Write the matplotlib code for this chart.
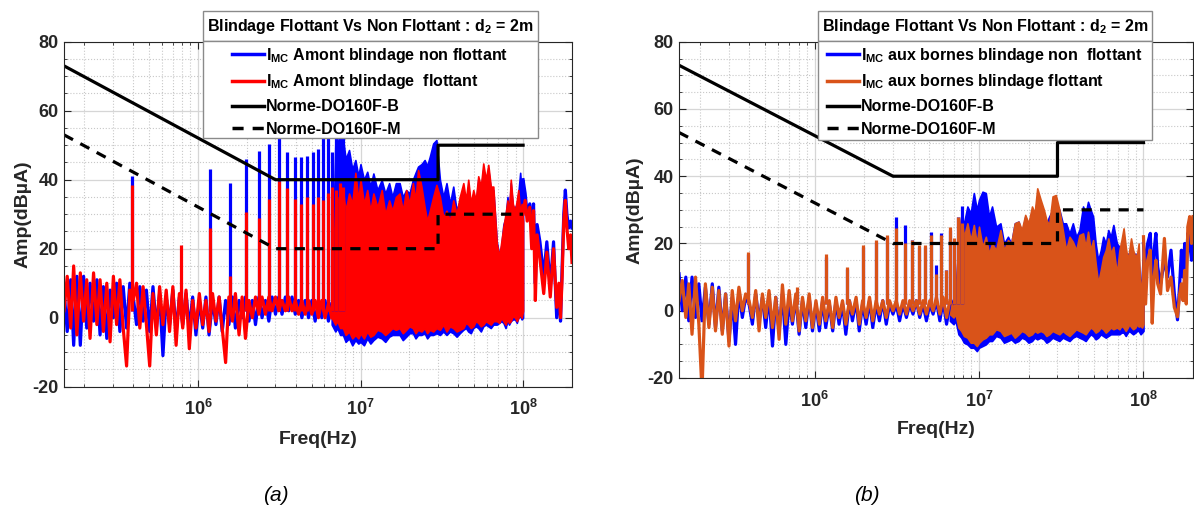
import numpy as np
import matplotlib
matplotlib.use('Agg')
import matplotlib.pyplot as plt
from matplotlib.lines import Line2D
from matplotlib.patches import Rectangle
from matplotlib.ticker import MultipleLocator, LogLocator, FuncFormatter, NullFormatter

plt.rcParams['font.family'] = ['Liberation Sans', 'DejaVu Sans']
plt.rcParams['font.weight'] = 'bold'
plt.rcParams['axes.unicode_minus'] = False
plt.rcParams['mathtext.fontset'] = 'custom'
plt.rcParams['mathtext.rm'] = 'Liberation Sans:bold'
plt.rcParams['mathtext.bf'] = 'Liberation Sans:bold'
plt.rcParams['mathtext.it'] = 'Liberation Sans:italic:bold'

# ---- data (frequencies in MHz, amplitudes in dBuA) ----
f_noise = [0.150, 0.157, 0.165, 0.172, 0.180, 0.189, 0.198, 0.207, 0.217, 0.228,
           0.239, 0.250, 0.262, 0.275, 0.288, 0.302, 0.316, 0.331, 0.347, 0.364,
           0.381, 0.400, 0.419, 0.439, 0.460, 0.482, 0.505, 0.529, 0.555, 0.581,
           0.609, 0.638, 0.669, 0.701, 0.734, 0.769, 0.806, 0.845, 0.885, 0.928,
           0.972, 1.02, 1.07, 1.12, 1.17, 1.23, 1.29, 1.35, 1.41, 1.48,
           1.55, 1.63, 1.70, 1.79, 1.87, 1.96, 2.06, 2.16, 2.26, 2.37,
           2.48, 2.60, 2.73, 2.86, 3.00, 3.14, 3.29, 3.45, 3.62, 3.79,
           3.97, 4.16, 4.36, 4.57, 4.79, 5.02, 5.26, 5.51, 5.78, 6.05,
           6.35, 6.65]

# (a) non floating shield (blue) / floating shield (red)
a_blue_noise = [8, -4, 11, -8, 12, -8, 12, -3, 10, -1,
                11, -5, 9, -6, 8, 0, 10, -4, 9, -3,
                10, 6, -2, 9, -1, 8, -4, 9, -3, 7,
                -11, 6, -2, 8, -4, 6, -2, 7, -3, 6,
                -5, 5, -3, 6, -5, 5, -2, 6, -4, 5,
                -2, 6, -3, 5, 0, 6, -1, 5, -2, 6,
                0, 5, -1, 6, 1, 6, 1, 6, 2, 6,
                1, 5, 0, 5, 0, 5, -1, 5, 0, 5,
                -1, 4]
a_red_noise = [2, 12, -3, 15, -5, 13, -1, 11, -6, 13,
               -2, 11, -4, 10, -7, 12, -2, 11, -3, -14,
               8, 5, 10, -3, 9, -2, -14, 7, -5, 9,
               -2, 8, -4, 9, -8, 7, -3, 8, -9, 5,
               -3, 7, -2, 5, -4, 7, -1, 6, -3, -13,
               6, -1, 7, -5, 6, -6, 5, 0, 6, 1,
               6, 1, 6, 2, 6, 2, 5, 2, 6, 2,
               5, 1, 5, 1, 5, 1, 5, 0, 5, 0,
               4, 0]

# (b) non floating shield (blue) / floating shield (orange)
b_blue_noise = [11, 0, 10, -3, 10, -2, 8, -3, 7, -4,
                8, -5, 7, -6, 5, -9, 4, -10, 6, -2,
                4, 2, -4, 5, -3, 4, -5, 5, -10.5, 4,
                -6, 5, -10, 3, -4, 4, -7, 3, -5, 4,
                -6, 2, -6, 3, -5, 2, -6, 3, -4, 2,
                -7, 3, -3, 3, -6, 2, -4, 3, -5, 2,
                -3, 3, -4, 2, -1, 2, -3, 2, -2, 2,
                -1, 3, -2, 2, -3, 2, -1, 3, -3, 3,
                -4, 2]
b_orange_noise = [3, 9, -2, 8, -7, 10, -4, -24, 8, -5,
                  7, -6, 6, -7, 5, -10.5, 6, -3, 7, 0,
                  5, 3, -2, 6, -6, 5, -2, 6, -5, 4,
                  -8.5, 7.7, -4, 6, -3, 5, -6, 4, -3, 5,
                  -5, 3, -4, 4, -3, 3, -5, 4, -2, 3,
                  -4, 3, -1, 4, -4, 3, -2, 4, -3, 3,
                  -1, 3, -2, 3, 0, 3, -1, 3, -1, 3,
                  0, 3, -1, 3, -1, 3, 0, 4, -1, 4,
                  -2, 3]

# harmonic lines
f_harm = [0.393, 0.786, 1.18, 1.57, 1.97, 2.36, 2.75, 3.14, 3.54, 3.93,
          4.32, 4.72, 5.11, 5.50, 5.90, 6.29, 6.68, 7.07, 7.47, 7.86]
a_blue_harm = [41, 8, 43, 39, 46, 48.4, 50.3, 55, 48, 46.5,
               46.5, 47, 48, 49, 55, 52, 48, 55, 53, 55]
a_red_harm = [38.5, 21, 26, 12, 30.5, 29, 34.5, 39.5, 37.5, 34.5,
              33, 35, 33, 35, 34, 36, 38, 37, 39, 38]
b_blue_harm = [17, 6, 16, 12.5, 19, 20.5, 22, 28, 25.5, 21,
               19, 19, 23.5, 13.6, 23, 12, 24, 20, 28, 31]
b_orange_harm = [17.6, 7, 16.9, 13.1, 19.6, 21, 22.5, 24.5, 20, 21,
                 19.6, 19.6, 22.5, 11, 22.5, 12, 25, 21.5, 28, 26]
harm_floor = 2

# dense part of the spectrum (upper / lower envelope)
f_band = [6.65, 7.0, 7.2, 7.5, 7.8, 8.1, 8.5, 8.9, 9.3, 9.7,
          10, 10.5, 11, 11.5, 12, 12.7, 13.5, 14.2, 15, 15.7,
          16.5, 17.4, 18.2, 19.1, 20, 21, 21.8, 22.6, 23.7, 24.8,
          25.7, 26.7, 28, 29.3, 30.8, 32.3, 33.8, 35.5, 37.2, 39,
          40.8, 42.9, 44.5, 46, 47.7, 49.4, 51.2, 53, 55, 56.9,
          59, 61.1, 63.3, 65.6, 68.9, 71.4, 73.5, 75.7, 78, 80.2,
          82, 84, 86.5, 89.3, 91.5, 93.5, 96, 98, 100]
a_blue_up = [5, 50, 52, 47, 52, 46, 48.6, 43, 45.7, 41,
             44.5, 40, 42.3, 38, 41.8, 37, 39.9, 36, 39, 35,
             39, 39, 35, 37, 36, 40, 42, 43.8, 44.5, 45.7,
             44, 46.7, 50.5, 51.5, 40, 35, 39, 33, 38, 31,
             34, 37, 33, 38, 32, 36, 33, 40, 37, 43,
             39, 43, 37, 37, 22, 18, 21, 27, 29, 35,
             30, 39, 32, 32, 33, 36, 42, 36, 40]
a_blue_dn = [-2, -4, -3, -5, -5, -7, -6, -8, -6.5, -7.5,
             -7, -8, -6, -7.5, -6.5, -5.5, -6, -7, -5.5, -5,
             -5, -5, -6.5, -5.5, -4.5, -4.5, -6, -5, -5, -4.5,
             -6, -5, -5, -4.5, -5, -4, -5, -4, -4.5, -5.5,
             -4.5, -3.5, -3, -4, -4.5, -3, -2.5, -3, -4, -2.5,
             -2, -2.5, -3, -2, -2, -1.5, -1, -1.5, -3, -1,
             -2, -1, -0.5, -0.5, -1.5, 0, 0.5, -0.5, 0]
a_red_up = [5, 33, 35, 30, 37, 31, 36, 33, 42, 34,
            40, 33, 37, 31, 36, 32, 37, 30, 34, 31,
            35, 36, 31, 37, 33, 39, 34, 42.8, 38, 32,
            28, 31, 35, 38.5, 35, 29, 31, 28, 34, 30,
            35, 39, 34, 40, 33, 37, 34, 41, 38, 44.7,
            40, 44.3, 38, 38, 21.5, 17.7, 22, 26.4, 30, 34,
            30, 40, 33, 31, 34, 37, 30, 33, 28]
a_red_dn = [0, -2, -1, -3, -3, -5, -4, -6, -5, -6,
            -4.5, -6, -4, -5.5, -5, -3.5, -4, -5, -4, -3,
            -3.5, -3, -4.5, -3.5, -2.5, -3, -4.5, -3.5, -4, -3,
            -4.5, -3.5, -4, -3, -3.5, -2, -4, -2.5, -3, -4,
            -3.5, -3, -1.5, -2, -3, -2.5, -1, -1.5, -2.5, -2,
            -1, -1.5, -2, -1, -1, -1.5, 0, -1, -2, -0.5,
            -1.5, -1, 0.5, 0, -1, 0, 1, 0, 2]
b_blue_up = [4, 2, 5, 20, 28, 26, 31, 29, 35, 30,
             33, 35.4, 35, 28, 31, 25, 26, 20, 22, 20,
             26, 26.5, 23, 28, 25, 30, 28, 34, 32, 29,
             26, 28, 30, 32, 30, 26, 26, 23, 26, 22,
             24, 31, 29, 32.4, 30, 28, 20, 15, 18, 22,
             20, 24, 22, 25.5, 20, 19, 17, 22, 16, 17,
             14, 19, 15, 17, 13, 15, 5, 12, 20]
b_blue_dn = [-3, -4, -3, -7, -8, -9.5, -10, -11, -11, -12,
             -11, -10.5, -10, -9, -9, -7.5, -8, -9.5, -9, -8.5,
             -9.5, -9, -8, -8.5, -9.5, -9, -8, -8.5, -8, -8.5,
             -9.5, -9, -8, -8.5, -9, -8, -8.5, -9, -8, -7.5,
             -8, -8.5, -9, -8, -7, -7.5, -8.5, -8, -7, -7.5,
             -8, -7.5, -7, -7, -7, -7, -6.5, -6.5, -7.5, -6.5,
             -6, -6.5, -7, -6.5, -6, -6, -7, -6.5, -6]
b_orange_up = [3, 1, 4, 22, 28, 22, 26, 21, 25.5, 20,
               25, 19, 22, 17, 20, 18, 24, 18, 21, 20,
               26, 26.5, 24, 28.5, 26, 31, 29, 36.4, 33, 30,
               27, 25.5, 34, 34.4, 30, 24, 18, 22, 20.5, 18,
               22.5, 23, 19, 23.5, 18, 21, 14, 8.2, 12, 16,
               18, 21.5, 17, 19, 11, 18, 21, 24.5, 19, 15,
               18, 21.5, 18, 16, 17, 20, 3, 10, 22]
b_orange_dn = [-1, -2, -1, -5, -6, -7.5, -8, -9.5, -9.5, -10.5,
               -9.5, -8.5, -8, -7, -7, -5.5, -6, -7.5, -7, -6.5,
               -8, -7, -6, -6.5, -7.5, -7, -6, -6.5, -6, -6.5,
               -7.5, -7, -6, -6.5, -7, -6, -6.8, -7.5, -6.5, -5.5,
               -6, -6.5, -7, -6, -5, -5.5, -6.5, -6, -5, -5.5,
               -6.5, -5.8, -5, -5.5, -5, -5.5, -4.5, -5, -6, -5,
               -4, -4.8, -5.5, -5, -4, -4.7, -4.5, -5, -4]

# above 100 MHz
f_tail = [100, 103, 106, 110, 113, 116, 119, 122, 127, 134,
          140, 147, 154, 161, 166, 170, 174, 178, 182, 186,
          191, 196, 200]
a_blue_tail = [40, 36, 30, 33, 26, 33, 10, 27, 22, 12,
               22, 9, 22, 0, 8, -1, 15, 30, 37, 30,
               26, 28, 26]
a_red_tail = [30, 34, 28, 32, 20, 31, 5, 24, 17, 7,
              19, 6, 20, 3, 10, 0, 12, 28, 34, 26,
              20, 24, 16]
b_blue_tail = [20, 12, 20, 23, 5, 18, 23, 13, 8, 15,
               10, 18, 5, -2.7, 8, 18, 10, 20, 12, 23,
               20, 15, 22]
b_orange_tail = [22, 2, 15, 18, -3.7, 10, 15, 8, 5, 21.5,
                 6, 10, 1, -1.8, 5, 8, 3, 12, 2, 25,
                 28, 20, 28]

# DO-160F limits
norm_f = [0.15, 3, 30, 30, 100]
norm_b = [73, 40, 40, 50, 50]
norm_m = [53, 20, 20, 30, 30]

y_ticks = [-20, 0, 20, 40, 60, 80]
title_txt = r'Blindage Flottant Vs Non Flottant : d$_\mathbf{2}$ = 2m'
labels_a = [r'$\mathbf{I_{MC}}$ Amont blindage non flottant',
            r'$\mathbf{I_{MC}}$ Amont blindage  flottant',
            'Norme-DO160F-B', 'Norme-DO160F-M']
labels_b = [r'$\mathbf{I_{MC}}$ aux bornes blindage non  flottant',
            r'$\mathbf{I_{MC}}$ aux bornes blindage flottant',
            'Norme-DO160F-B', 'Norme-DO160F-M']

BLUE = '#0000ff'
RED = '#ff0000'
ORANGE = '#d95319'
DASH = (3.2, 2.6)

W, H = 1194, 511
fig = plt.figure(figsize=(W / 100, H / 100), dpi=100)


def fx(px):
    return px / W


def fy(py):
    return 1 - py / H


def mhz(v):
    return np.array(v) * 1e6


def style_axes(ax):
    ax.set_xscale('log')
    ax.set_xlim(1.5e5, 2e8)
    ax.set_ylim(-20, 80)
    ax.set_yticks(y_ticks)
    ax.yaxis.set_minor_locator(MultipleLocator(5))
    ax.xaxis.set_major_locator(LogLocator(base=10))
    ax.xaxis.set_minor_locator(LogLocator(base=10, subs=np.arange(2, 10)))
    ax.xaxis.set_major_formatter(FuncFormatter(lambda v, p: r'$\mathbf{10^{%d}}$' % round(np.log10(v))))
    ax.xaxis.set_minor_formatter(NullFormatter())
    ax.grid(True, which='major', color='#d6d6d6', lw=0.9)
    ax.grid(True, which='minor', color='#c8c8c8', lw=0.8, ls=':')
    ax.set_axisbelow(True)
    ax.tick_params(which='both', direction='in', top=True, right=True,
                   colors='#262626', labelsize=13)
    ax.tick_params(which='major', length=5, width=0.8)
    ax.tick_params(which='minor', length=2.5, width=0.6)
    ax.tick_params(axis='x', pad=9)
    ax.tick_params(axis='y', pad=4)
    for s in ax.spines.values():
        s.set_color('#262626')
        s.set_linewidth(0.8)


def draw_series(ax, color, noise, harm, up, dn, tail):
    ax.plot(mhz(f_noise), noise, color=color, lw=2.3)
    ax.vlines(mhz(f_harm), harm_floor, harm, color=color, lw=2.3)
    ax.fill_between(mhz(f_band), dn, up, color=color, lw=1.2)
    ax.plot(mhz(f_tail), tail, color=color, lw=2.3)


def draw_norms(ax):
    ax.plot(mhz(norm_f), norm_b, color='k', lw=2.3)
    ax.plot(mhz(norm_f), norm_m, color='k', lw=2.3, dashes=DASH)


def legend_box(x0, x1, y_top, y_mid, y_bot, c1, c2, labels, lx):
    fig.add_artist(Rectangle((fx(x0), fy(y_mid)), fx(x1) - fx(x0), fy(y_top) - fy(y_mid),
                             transform=fig.transFigure, facecolor='white',
                             edgecolor='#8a8a8a', lw=1.0, zorder=1))
    fig.add_artist(Rectangle((fx(x0), fy(y_bot)), fx(x1) - fx(x0), fy(y_mid) - fy(y_bot),
                             transform=fig.transFigure, facecolor='white',
                             edgecolor='#8a8a8a', lw=1.0, zorder=1))
    fig.text(fx((x0 + x1) / 2), fy((y_top + y_mid) / 2), title_txt, ha='center', va='center',
             fontsize=11.5, fontweight='bold', zorder=3)
    handles = [Line2D([], [], color=c1, lw=2.5), Line2D([], [], color=c2, lw=2.5),
               Line2D([], [], color='k', lw=2.5), Line2D([], [], color='k', lw=2.5, dashes=DASH)]
    fig.legend(handles, labels, loc='upper left', bbox_to_anchor=(fx(lx), fy(y_mid)),
               frameon=False, fontsize=11.5, handlelength=2.0, handletextpad=0.15,
               labelspacing=0.48, borderpad=0.3, borderaxespad=0)


# ---- (a) ----
ax1 = fig.add_axes([fx(64), fy(386.7), (572 - 64) / W, (386.7 - 41.7) / H])
style_axes(ax1)
draw_series(ax1, BLUE, a_blue_noise, a_blue_harm, a_blue_up, a_blue_dn, a_blue_tail)
draw_series(ax1, RED, a_red_noise, a_red_harm, a_red_up, a_red_dn, a_red_tail)
draw_norms(ax1)
ax1.set_ylabel('Amp(dBµA)', fontsize=14, fontweight='bold', color='#262626')
ax1.yaxis.set_label_coords(-0.063, 0.5)
ax1.set_xlabel('Freq(Hz)', fontsize=14, fontweight='bold', color='#262626')
ax1.xaxis.set_label_coords(0.5, -0.127)
legend_box(203, 538, 11, 41, 138, BLUE, RED, labels_a, 227)

# ---- (b) ----
ax2 = fig.add_axes([fx(679), fy(378), (1193 - 679) / W, (378 - 41.7) / H])
style_axes(ax2)
draw_series(ax2, BLUE, b_blue_noise, b_blue_harm, b_blue_up, b_blue_dn, b_blue_tail)
draw_series(ax2, ORANGE, b_orange_noise, b_orange_harm, b_orange_up, b_orange_dn, b_orange_tail)
draw_norms(ax2)
ax2.set_ylabel('Amp(dBµA)', fontsize=14, fontweight='bold', color='#262626')
ax2.yaxis.set_label_coords(-0.070, 0.5)
ax2.set_xlabel('Freq(Hz)', fontsize=14, fontweight='bold', color='#262626')
ax2.xaxis.set_label_coords(0.5, -0.127)
legend_box(818, 1152, 11, 41, 140, BLUE, ORANGE, labels_b, 822)

fig.text(fx(276), fy(495), '(a)', ha='center', va='center', fontsize=15,
         style='italic', fontweight='normal')
fig.text(fx(867), fy(495), '(b)', ha='center', va='center', fontsize=15,
         style='italic', fontweight='normal')

fig.savefig('out.png', dpi=100)
